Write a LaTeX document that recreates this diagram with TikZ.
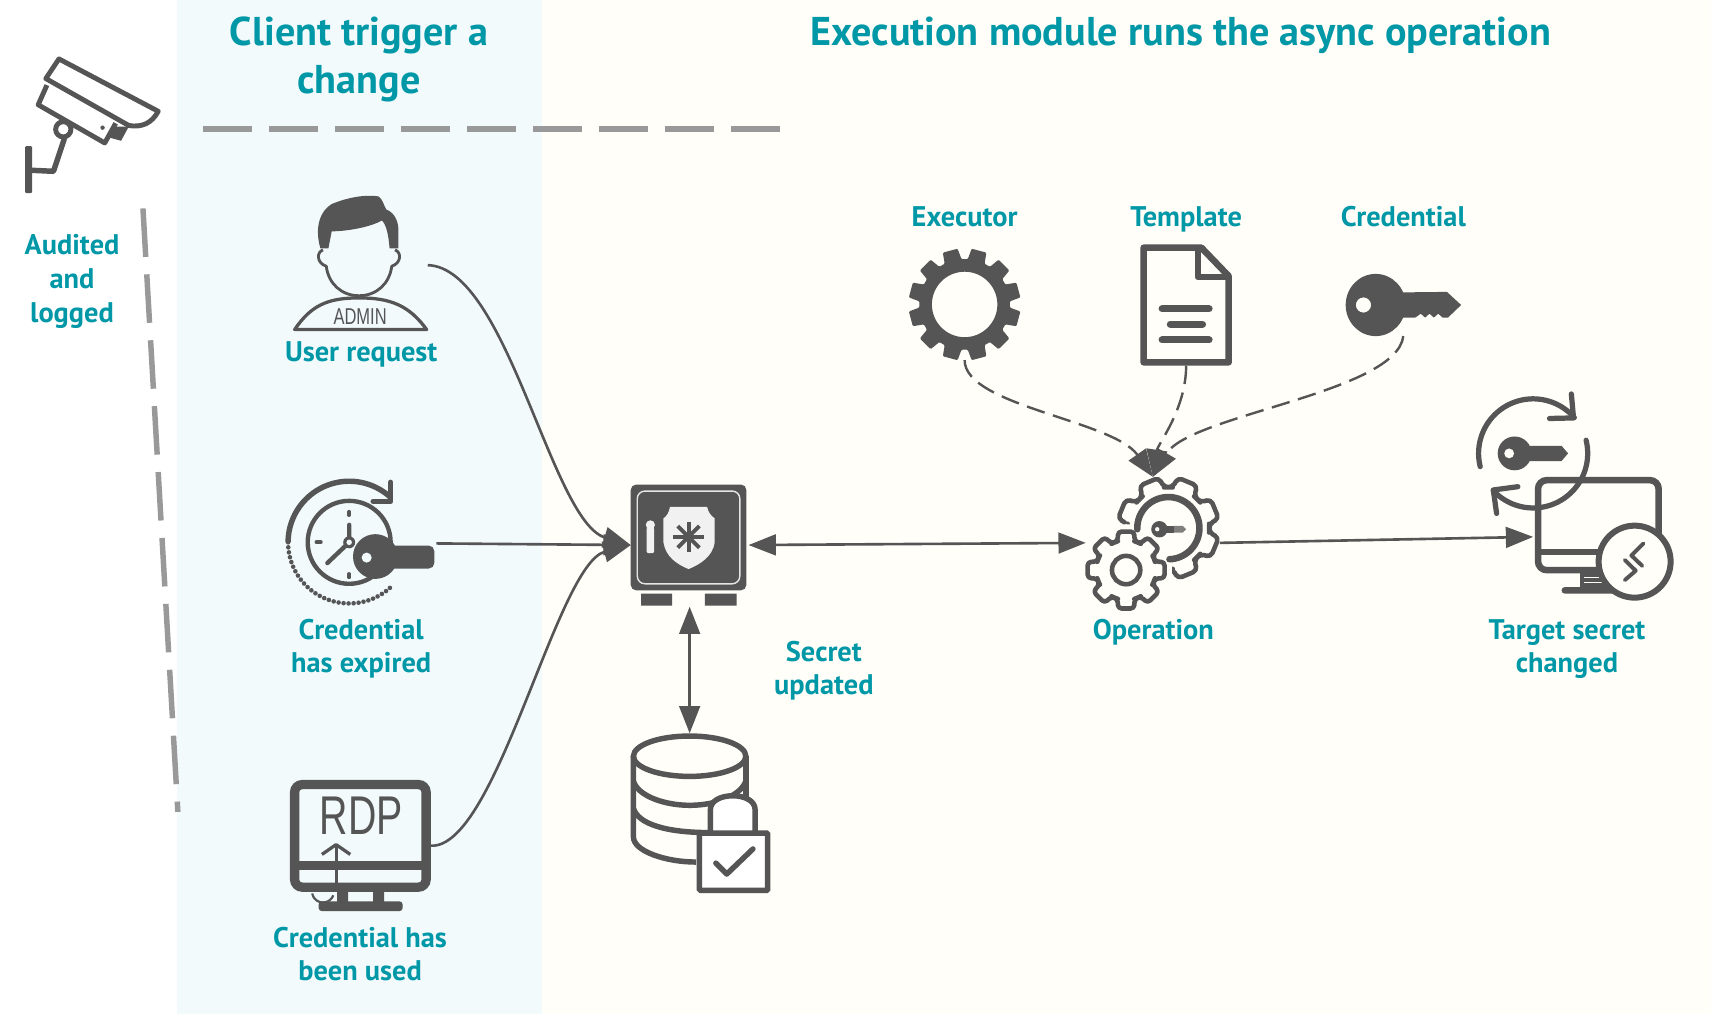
\documentclass[tikz,border=0pt]{standalone}
\usepackage{fontspec}
\setmainfont{PT Sans}
\usetikzlibrary{arrows.meta,calc}
\definecolor{ink}{HTML}{555555}
\definecolor{teal}{HTML}{0097A7}
\definecolor{rule}{HTML}{999999}
\definecolor{bluebg}{HTML}{F2FAFC}
\definecolor{creambg}{HTML}{FFFEF8}
\newcommand{\parc}[5]{plot[domain=#4:#5,samples=50,smooth] ({#1+#3*cos(\x)},{#2-#3*sin(\x)})}
% gear outline: cx cy outer root teeth
\newcommand{\gearp}[5]{({#1+#4*cos(0)},{#2-#4*sin(0)})
 \foreach \i in {1,...,#5}{
  -- ({#1+#4*cos((\i-1)*360/#5+0.13*360/#5)},{#2-#4*sin((\i-1)*360/#5+0.13*360/#5)})
  -- ({#1+#3*cos((\i-1)*360/#5+0.24*360/#5)},{#2-#3*sin((\i-1)*360/#5+0.24*360/#5)})
  -- ({#1+#3*cos((\i-1)*360/#5+0.76*360/#5)},{#2-#3*sin((\i-1)*360/#5+0.76*360/#5)})
  -- ({#1+#4*cos((\i-1)*360/#5+0.87*360/#5)},{#2-#4*sin((\i-1)*360/#5+0.87*360/#5)})
  -- ({#1+#4*cos(\i*360/#5)},{#2-#4*sin(\i*360/#5)})
 } -- cycle}
\tikzset{
  lbl/.style={text=teal,font=\fontsize{26}{26}\selectfont\bfseries,inner sep=0,anchor=center,text height=17pt,text depth=5pt,yshift=-3.5pt},
  ttl/.style={text=teal,font=\fontsize{36.8}{37}\selectfont\bfseries,inner sep=0,anchor=center,text height=26pt,text depth=8pt,yshift=-4pt},
  box/.style={inner sep=0,outer sep=0,minimum width=#1},
  tiptri/.tip={Triangle[length=25pt,width=19pt]},
  conn/.style={draw=ink,line width=2.4pt},
  dconn/.style={draw=ink,line width=2.2pt,dash pattern=on 17pt off 8pt},
  divider/.style={draw=rule,line width=5.5pt,dash pattern=on 44.5pt off 16pt},
}
\begin{document}
\begin{tikzpicture}[x=1pt,y=-1pt]
\useasboundingbox (0,0) rectangle (1568,929.2);
\fill[white] (0,0) rectangle (162,929.2);
\fill[bluebg] (162,0) rectangle (497,929.2);
\fill[creambg] (497,0) rectangle (1568,929.2);

% anchors for connectors: boxes around each icon
\node[box=122pt,minimum height=125pt] (admin) at (331,243) {};
\node[box=140pt,minimum height=116pt] (clock) at (330,498) {};
\node[box=130pt,minimum height=122pt] (rdp) at (330,775) {};
\node[box=108pt,minimum height=113pt] (vault) at (632,499.5) {};
\node[box=108pt,minimum height=148pt] (db) at (632,746) {};
\node[box=104pt,minimum height=102pt] (gear) at (884,279) {};
\node[box=84pt,minimum height=111pt] (doc) at (1087,279.5) {};
\node[box=106pt,minimum height=57pt] (keyi) at (1286,279.5) {};
\node[box=123pt,minimum height=121pt] (op) at (1056.5,497.5) {};
\node[box=128pt,minimum height=110pt] (target) at (1469,492) {};
\coordinate (divA) at (186,118);
\coordinate (divB) at (715,118);
\coordinate (divC) at (131,191);
\coordinate (divD) at (163,744);

% dashed dividers
\draw[divider] (divA) -- (divB);
\draw[divider,line width=5pt] (divC) -- (divD);

% titles
\node[ttl] (t1) at (329,29) {Client trigger a};
\node[ttl] (t2) at (329,73) {change};
\node[ttl] (t3) at (1082,29) {Execution module runs the async operation};
\node[lbl] (a1) at (66,224) {Audited};
\node[lbl] (a2) at (66,255) {and};
\node[lbl] (a3) at (66,286) {logged};
\node[lbl] (l1) at (331,322) {User request};
\node[lbl] (l2) at (331,577) {Credential};
\node[lbl] (l3) at (331,607) {has expired};
\node[lbl] (l4) at (330,859) {Credential has};
\node[lbl] (l5) at (330,889) {been used};
\node[lbl] (l6) at (755,597) {Secret};
\node[lbl] (l7) at (755,627) {updated};
\node[lbl] (l8) at (884,198) {Executor};
\node[lbl] (l9) at (1087,198) {Template};
\node[lbl] (l10) at (1286,198) {Credential};
\node[lbl] (l11) at (1057,577) {Operation};
\node[lbl] (l12) at (1436,577) {Target secret};
\node[lbl] (l13) at (1436,607) {changed};

% camera
\draw[ink,line width=4.5pt,line join=round] (54,54) -- (145,102) .. controls (139,113) and (130,117) .. (118,115) -- (42,72) -- cycle;
\draw[ink,line width=4.5pt,line join=round] (43,78) -- (35,96) -- (96,131) -- (106,113);
\fill[ink] (103,116) -- (118,116) -- (111,129) -- (100,126) -- cycle;
\fill[ink] (94,117) circle[radius=2pt];
\draw[ink,line width=4.5pt] (58,118.5) circle[radius=7pt];
\draw[ink,line width=5pt,line join=round] (59,127) -- (49,157) -- (28,156);
\fill[ink,rounded corners=1pt] (23,134) rectangle (29.5,177);

% admin icon
\fill[ink] (293.6,227.5) .. controls (289,212) and (291,195) .. (304,187) .. controls (318,181) and (335,178) .. (347,180) .. controls (351,183) and (352,189) .. (354,192) .. controls (362,195) and (366,204) .. (365,214) -- (365,227.5) -- (357,227.5) .. controls (356,215) and (354,206) .. (350,202) .. controls (340,208) and (318,212) .. (304,212) .. controls (303,217) and (302,222) .. (301,227.5) -- cycle;
\draw[ink,line width=2.6pt,line join=round,fill=bluebg] (296,229) .. controls (290,231) and (290,241) .. (299,244) .. controls (301,260) and (313,271) .. (329,271) .. controls (345,271) and (357,260) .. (359,244) .. controls (368,241) and (368,231) .. (362,229);
\draw[ink,line width=3pt,line join=round] (270,302) .. controls (285,280) and (300,273) .. (329,273) .. controls (358,273) and (375,280) .. (391,302) -- cycle;
\node[text=ink,inner sep=0,font=\fontspec{Liberation Sans}\fontsize{21}{21}\selectfont,xscale=0.72] (admt) at (330,290) {ADMIN};

% clock + key
\draw[ink,line width=4pt] (320,497) circle[radius=38pt];
\draw[ink,line width=4pt,line join=round,line cap=round] (320,481) -- (320,497) -- (300,516);
\fill[ink] (320,497) circle[radius=5.5pt];
\fill[bluebg] (320,497) circle[radius=2.5pt];
\draw[ink,line width=3.5pt,line cap=round] (320,469) -- (320,472) (320,526) -- (320,529) (290,497) -- (294,497);
\draw[ink,line width=5pt] \parc{320}{497}{56}{180}{47};
\draw[ink,line width=5pt,line join=round,line cap=round] (358,442) -- (358,459.5) -- (342,459.5);
\draw[ink,line width=4.2pt,line cap=round,dash pattern=on 0pt off 4.6pt] \parc{320}{497}{56}{180}{315};
\fill[ink] (344,510) circle[radius=20.5pt];
\fill[ink,rounded corners=5pt] (355,500) rectangle (398,521);
\fill[bluebg] (336,511) circle[radius=4.6pt];

% RDP monitor
\draw[ink,line width=8.5pt,rounded corners=7pt] (270,719) rectangle (390.5,813);
\draw[ink,line width=8pt] (270,793) -- (390.5,793);
\fill[ink] (309,817) rectangle (319,828) (342,817) rectangle (352,828);
\fill[ink,rounded corners=3pt] (292,826) rectangle (369,835);
\node[text=ink,inner sep=0,font=\fontspec{Liberation Sans}\fontsize{50}{50}\selectfont,xscale=0.72] (rdpt) at (331,748) {RDP};
\draw[ink,line width=2.6pt] (308,775) -- (308,816);
\draw[ink,line width=3pt,line join=round] (295,783) -- (308,774) -- (321,783);
\draw[ink,line width=2pt] \parc{296}{817}{10}{190}{340};

% vault
\fill[ink,rounded corners=5pt] (578,444) rectangle (684,541);
\draw[white!85!ink,line width=1.3pt,rounded corners=7pt] (584,450) rectangle (678,535);
\fill[ink] (587.5,544) rectangle (616,555) (646,544) rectangle (675,555);
\fill[white!92!ink] (614,464.5) -- (648,464.5) .. controls (649,470) and (652,473) .. (655,475) -- (655,497) .. controls (653,510) and (642,517) .. (631,521.5) .. controls (620,517) and (610,510) .. (608,497) -- (608,475) .. controls (611,473) and (613,470) .. (614,464.5) -- cycle;
\foreach \a in {0,45,90,135}{
  \draw[ink,line width=3.6pt] ({631+14*cos(\a)},{492-14*sin(\a)}) -- ({631-14*cos(\a)},{492+14*sin(\a)});
}
\fill[white!92!ink] (596,481) circle[radius=4.2pt];
\fill[white!92!ink,rounded corners=2pt] (592.5,483) rectangle (599.5,507);

% database + lock
\draw[ink,line width=5pt] (632,693) ellipse[x radius=51.5pt,y radius=18.5pt];
\draw[ink,line width=5pt] (580.5,693) -- (580.5,767) .. controls (580.5,780) and (610,790) .. (638,790);
\draw[ink,line width=5pt] (683.5,693) -- (683.5,735);
\draw[ink,line width=5pt] (580.5,716) .. controls (585,730) and (610,738) .. (632,738) .. controls (655,738) and (678,730) .. (683.5,716);
\draw[ink,line width=5pt] (580.5,741) .. controls (585,755) and (610,763) .. (650,763);
\draw[ink,line width=5pt,fill=white,rounded corners=8pt] (651,764) -- (651,750) .. controls (651,725) and (692,725) .. (692,750) -- (692,764);
\draw[ink,line width=5pt,fill=white,rounded corners=1pt] (641,763.5) rectangle (703.5,816);
\draw[ink,line width=5pt,line join=round,line cap=round] (656,791) -- (666,801) -- (690,778);

% executor gear
\fill[ink,even odd rule,rounded corners=1pt] \gearp{884}{279}{51.5}{41.5}{12} (884,279) circle[radius=30pt];

% document
\draw[ink,line width=6pt,line join=round,fill=creambg] (1048,227) -- (1101,227) -- (1126,253) -- (1126,332) -- (1048,332) -- cycle;
\draw[ink,line width=6pt,line join=round] (1098,227) -- (1098,254) -- (1126,254);
\draw[ink,line width=6.5pt,line cap=round] (1065,283) -- (1108,283) (1072.5,297) -- (1102,297) (1065,311.5) -- (1108,311.5);

% key
\fill[ink,even odd rule] (1260.7,279.5) ellipse[x radius=27.5pt,y radius=28.5pt] (1249.5,279.5) circle[radius=7pt];
\fill[ink] (1280,268) -- (1326,267.5) -- (1339,279.5) -- (1327,291) -- (1322,291) -- (1318,287.5) -- (1314,291) -- (1310,287.5) -- (1306,291) -- (1302,287.5) -- (1297,291) -- (1280,291) -- cycle;

% operation icon: big gear, small gear, dial, key
\draw[ink,line width=4.2pt,rounded corners=4pt,line join=round] \gearp{1070.7}{484}{47}{37.5}{8};
\fill[creambg] (1032,522.4) circle[radius=42pt];
\draw[ink,line width=4.2pt,rounded corners=3.2pt,line join=round,fill=creambg,rotate around={22.5:(1032,522.4)}] \gearp{1032}{522.4}{36}{27.5}{8};
\draw[ink,line width=4.2pt] (1032,522.4) circle[radius=13pt];
\draw[ink,line width=6pt,line cap=round] \parc{1070.7}{484}{28.5}{182}{-88};
\fill[ink] (1062.5,485) circle[radius=7.5pt];
\fill[creambg] (1060.5,485) circle[radius=2pt];
\fill[ink] (1066,482) rectangle (1076,488);
\fill[ink!75!creambg] (1076,482) -- (1084,482) -- (1087,485) -- (1084,488) -- (1076,488) -- cycle;

% target: refresh key + monitor
\draw[ink,line width=4.8pt,line cap=round] \parc{1405}{415.5}{50}{194}{41};
\draw[ink,line width=4.8pt,line cap=round,line join=round] (1440,361) -- (1442,383) -- (1420,383.5);
\fill[ink] (1388,415.5) circle[radius=15.5pt];
\fill[ink] (1398,408.5) -- (1431,408.5) -- (1437,415.5) -- (1431,422.5) -- (1398,422.5) -- cycle;
\fill[creambg] (1383,415.5) circle[radius=4.5pt];
\draw[ink,line width=6pt,rounded corners=8pt] (1409.5,440) rectangle (1520,522.5);
\draw[ink,line width=4.8pt,line cap=round] \parc{1405}{415.5}{50}{14}{-137};
\draw[ink,line width=4.8pt,line cap=round,line join=round] (1391,446) -- (1368.5,449) -- (1371.5,470.5);
\draw[ink,line width=5.5pt] (1409.5,505.5) -- (1480,505.5);
\fill[ink] (1448,523) rectangle (1472,540);
\fill[ink,rounded corners=3pt] (1431,538) rectangle (1480,544);
\draw[creambg,line width=0.8pt] (1452,529) -- (1470,529) (1452,534) -- (1470,534);
\draw[ink,line width=5.5pt,fill=creambg] (1498,514.7) circle[radius=33pt];
\draw[ink,line width=3.6pt,line cap=round,line join=round] (1506,498) -- (1495,509) -- (1505,518.6);
\draw[ink,line width=3.6pt,line cap=round,line join=round] (1489,513.2) -- (1499,523) -- (1489,531.6);

% connectors
\draw[conn,-{tiptri}] (admin.east) .. controls (465,245) and (505,478) .. (vault.west);
\draw[conn,-{tiptri}] (clock.east) -- (vault.west);
\draw[conn,-{tiptri}] (rdp.east) .. controls (455,778) and (510,517) .. (vault.west);
\draw[conn,{tiptri}-{tiptri}] (vault.east) -- (op.west);
\draw[conn,{tiptri}-{tiptri}] (vault.south) -- (db.north);
\draw[conn,-{tiptri}] (op.east) -- (target.west);
\draw[dconn,-{tiptri}] (gear.south) .. controls (884,372) and (1020,385) .. (op.north);
\draw[dconn,-{tiptri}] (doc.south) .. controls (1087,375) and (1061,407) .. (op.north);
\draw[dconn,-{tiptri}] (keyi.south) .. controls (1280,360) and (1090,380) .. (op.north);
\end{tikzpicture}
\end{document}
